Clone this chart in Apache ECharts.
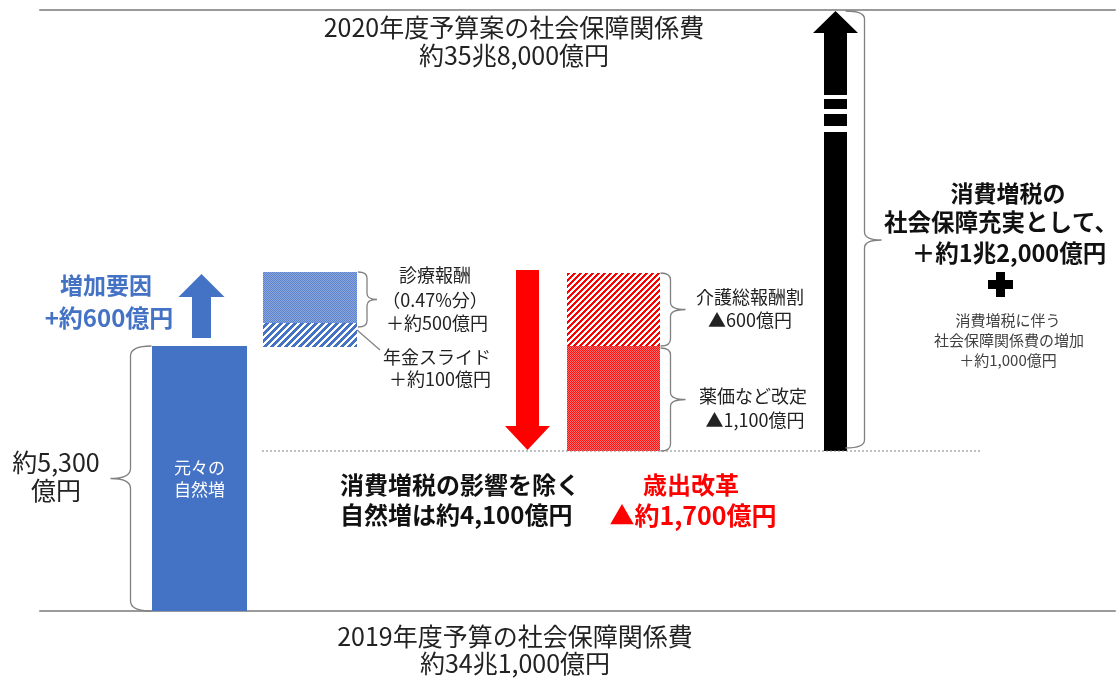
<!DOCTYPE html>
<html><head><meta charset="utf-8">
<script src="https://cdn.jsdelivr.net/npm/echarts@6/dist/echarts.min.js"></script>
<style>html,body{margin:0;padding:0;background:#fff}#c{width:1119px;height:678px}</style>
</head><body><div id="c"></div>
<script>
// ===== DATA (figure is schematic: heights in its own drawing units,
// 0 = 2019年度 baseline, 601 = 2020年度 line) =====
const columns = ['元々の自然増', '診療報酬・年金スライド', '歳出改革', '介護総報酬割・薬価など改定', '社会保障充実'];
const scaleMax = 601;
const naturalIncrease = [265];      // 元々の自然増 (約5,300億円)
const increaseOffset = [264];       // hidden base under 増加要因 bars
const pensionSlide = [24];          // 年金スライド (+約100億円)
const medicalFee = [51];            // 診療報酬 (+約500億円)
const cutOffset = [160];            // hidden base under 歳出改革 bars
const drugPrice = [105];            // 薬価など改定 (▲1,100億円)
const nursingCare = [73];           // 介護総報酬割 (▲600億円)
const blueArrow = [273, 337];       // [base, tip]
const redArrow = [341, 161];
const blackArrow = [160, 600];
const levelAfterCut = [160];        // dotted line level
const braceNatural = [0, 265];
const braceMedical = [284, 339];
const braceNursing = [265, 338];
const braceDrug = [160, 263];
const braceEnhance = [163, 600];

const titleTop = ['2020年度予算案の社会保障関係費', '約35兆8,000億円'];
const titleBottom = ['2019年度予算の社会保障関係費', '約34兆1,000億円'];
const naturalLabel = ['約5,300', '億円'];
const naturalInner = '元々の\n自然増';
const increaseLabel = ['増加要因', '+約600億円'];
const medicalLabel = ['診療報酬', '（0.47%分）', '＋約500億円'];
const pensionLabel = ['年金スライド', '＋約100億円'];
const nursingLabel = ['介護総報酬割', '▲600億円'];
const drugLabel = ['薬価など改定', '▲1,100億円'];
const netLabel = ['消費増税の影響を除く', '自然増は約4,100億円'];
const cutLabel = ['歳出改革', '▲約1,700億円'];
const enhanceLabel = ['消費増税の', '社会保障充実として、', '＋約1兆2,000億円'];
const taxLabel = ['消費増税に伴う', '社会保障関係費の増加', '＋約1,000億円'];

// ===== STYLE =====
const FONT = '"Noto Sans CJK JP", "Noto Sans", sans-serif';
const BLUE_HEX = '#4472C4';
function pattern(w, h, pick) {
  const c = document.createElement('canvas'); c.width = w; c.height = h;
  const ctx = c.getContext('2d');
  for (let y = 0; y < h; y++) for (let x = 0; x < w; x++) {
    ctx.fillStyle = pick(x, y); ctx.fillRect(x, y, 1, 1);
  }
  return { image: c, repeat: 'repeat' };
}
const blueStripe = pattern(7, 7, (x, y) => ((x + y) % 7) < 4 ? BLUE_HEX : '#ffffff');
const redStripe = pattern(6, 6, (x, y) => ((x + y) % 6) < 3 ? '#ff0000' : '#ffffff');
const blueDots = pattern(2, 2, (x, y) => ((x + y) % 2 === 0) ? '#5a82cc' : '#8ea8dc');
const redDots = pattern(2, 2, (x, y) => ((x + y) % 2 === 0) ? '#ff1010' : '#ff7070');

function arrowRender(cfg) {
  return function (params, api) {
    const base = api.coord([api.value(0), api.value(1)]);
    const tip = api.coord([api.value(0), api.value(2)]);
    const cx = base[0] + (cfg.dx || 0);
    const dir = tip[1] < base[1] ? -1 : 1;
    const hb = tip[1] - dir * cfg.head;
    const hw = cfg.headW / 2, sw = cfg.shaftW / 2;
    const pts = [[cx - sw, base[1]], [cx - sw, hb], [cx - hw, hb], [cx, tip[1]], [cx + hw, hb], [cx + sw, hb], [cx + sw, base[1]]];
    const children = [{ type: 'polygon', shape: { points: pts }, style: { fill: cfg.color } }];
    (cfg.breaks || []).forEach(b => {
      children.push({ type: 'rect', shape: { x: cx - sw - 1, y: tip[1] + b[0], width: cfg.shaftW + 2, height: b[1] - b[0] }, style: { fill: '#fff' } });
    });
    return { type: 'group', children };
  };
}
function braceRender(cfg) {
  return function (params, api) {
    const a = api.coord([api.value(0), api.value(1)]);
    const b = api.coord([api.value(0), api.value(2)]);
    const cx = a[0];
    const yTop = Math.min(a[1], b[1]), yBot = Math.max(a[1], b[1]);
    const xe = cx + cfg.end, xm = cx + cfg.mid, xt = cx + cfg.tip;
    const yt = yTop + (yBot - yTop) * (cfg.frac || 0.5);
    const r = cfg.r;
    const d = `M${xe} ${yTop} Q${xm} ${yTop} ${xm} ${yTop + r} L${xm} ${yt - r} Q${xm} ${yt} ${xt} ${yt} Q${xm} ${yt} ${xm} ${yt + r} L${xm} ${yBot - r} Q${xm} ${yBot} ${xe} ${yBot}`;
    return { type: 'path', shape: { pathData: d }, style: { fill: 'none', stroke: '#808080', lineWidth: 1.3 } };
  };
}
function T(text, x, y, size, o) {
  o = o || {};
  const al = o.align || 'center';
  return { type: 'text', x: x, y: y, z: 100, style: {
    text: text, fill: o.color || '#222', fontSize: size, fontFamily: FONT, fontWeight: o.bold ? 'bold' : 'normal',
    align: al, textAlign: al, verticalAlign: 'middle', textVerticalAlign: 'middle' } };
}

const colGrids = [
  { left: 152, width: 95 }, { left: 263, width: 94 }, { left: 505, width: 45 }, { left: 567, width: 93 }, { left: 813, width: 45 }
];
const grids = colGrids.map(g => ({ left: g.left, width: g.width, top: 10, height: 601 }));
grids.push({ left: 40, width: 1075, top: 10, height: 601 });   // frame (5)
grids.push({ left: 262, width: 718, top: 10, height: 601 });   // dotted level (6)

const xAxes = columns.map((c, i) => ({ type: 'category', gridIndex: i, data: [c], show: false }));
xAxes.push({ type: 'value', gridIndex: 5, min: 0, max: 1, position: 'bottom', axisLine: { show: true, lineStyle: { color: '#9a9a9a', width: 2 } }, axisTick: { show: false }, axisLabel: { show: false }, splitLine: { show: false } });
xAxes.push({ type: 'value', gridIndex: 5, min: 0, max: 1, position: 'top', axisLine: { show: true, onZero: false, lineStyle: { color: '#9a9a9a', width: 2 } }, axisTick: { show: false }, axisLabel: { show: false }, splitLine: { show: false } });
xAxes.push({ type: 'value', gridIndex: 6, min: 0, max: 1, show: false });
const yAxes = grids.map((g, i) => ({ type: 'value', gridIndex: i, min: 0, max: scaleMax, show: false }));

const series = [
  { type: 'bar', name: columns[0], xAxisIndex: 0, yAxisIndex: 0, data: naturalIncrease, barWidth: '100%', itemStyle: { color: BLUE_HEX },
    label: { show: true, position: 'inside', formatter: naturalInner, color: '#fff', fontSize: 17, lineHeight: 22, fontFamily: FONT } },
  { type: 'bar', xAxisIndex: 1, yAxisIndex: 1, stack: 'inc', data: increaseOffset, barWidth: '100%', itemStyle: { color: 'rgba(0,0,0,0)' } },
  { type: 'bar', name: '年金スライド', xAxisIndex: 1, yAxisIndex: 1, stack: 'inc', data: pensionSlide, barWidth: '100%', itemStyle: { color: blueStripe } },
  { type: 'bar', name: '診療報酬', xAxisIndex: 1, yAxisIndex: 1, stack: 'inc', data: medicalFee, barWidth: '100%', itemStyle: { color: blueDots } },
  { type: 'bar', xAxisIndex: 3, yAxisIndex: 3, stack: 'cut', data: cutOffset, barWidth: '100%', itemStyle: { color: 'rgba(0,0,0,0)' } },
  { type: 'bar', name: '薬価など改定', xAxisIndex: 3, yAxisIndex: 3, stack: 'cut', data: drugPrice, barWidth: '100%', itemStyle: { color: redDots } },
  { type: 'bar', name: '介護総報酬割', xAxisIndex: 3, yAxisIndex: 3, stack: 'cut', data: nursingCare, barWidth: '100%', itemStyle: { color: redStripe } },
  { type: 'custom', xAxisIndex: 0, yAxisIndex: 0, data: [[0, blueArrow[0], blueArrow[1]]], encode: { x: 0, y: [1, 2] },
    renderItem: arrowRender({ headW: 46, shaftW: 19, head: 23, color: BLUE_HEX, dx: 2 }) },
  { type: 'custom', xAxisIndex: 2, yAxisIndex: 2, data: [[0, redArrow[0], redArrow[1]]], encode: { x: 0, y: [1, 2] },
    renderItem: arrowRender({ headW: 45, shaftW: 23, head: 24, color: '#FF0000' }) },
  { type: 'custom', xAxisIndex: 4, yAxisIndex: 4, data: [[0, blackArrow[0], blackArrow[1]]], encode: { x: 0, y: [1, 2] },
    renderItem: arrowRender({ headW: 45, shaftW: 23, head: 22, color: '#000', breaks: [[84, 88], [98, 103], [115, 121]] }) },
  { type: 'custom', xAxisIndex: 0, yAxisIndex: 0, data: [[0, braceNatural[0], braceNatural[1]]], encode: { x: 0, y: [1, 2] },
    renderItem: braceRender({ end: -48, mid: -69, tip: -89, r: 10 }) },
  { type: 'custom', xAxisIndex: 1, yAxisIndex: 1, data: [[0, braceMedical[0], braceMedical[1]]], encode: { x: 0, y: [1, 2] },
    renderItem: braceRender({ end: 48, mid: 57, tip: 67, r: 6 }) },
  { type: 'custom', xAxisIndex: 3, yAxisIndex: 3, data: [[0, braceNursing[0], braceNursing[1]]], encode: { x: 0, y: [1, 2] },
    renderItem: braceRender({ end: 47, mid: 57, tip: 72, r: 7 }) },
  { type: 'custom', xAxisIndex: 3, yAxisIndex: 3, data: [[0, braceDrug[0], braceDrug[1]]], encode: { x: 0, y: [1, 2] },
    renderItem: braceRender({ end: 47, mid: 57, tip: 72, r: 7 }) },
  { type: 'custom', xAxisIndex: 4, yAxisIndex: 4, data: [[0, braceEnhance[0], braceEnhance[1]]], encode: { x: 0, y: [1, 2] },
    renderItem: braceRender({ end: 10, mid: 29, tip: 46, r: 8, frac: 0.524 }) },
  { type: 'line', xAxisIndex: 7, yAxisIndex: 6, data: [[0, levelAfterCut[0]], [1, levelAfterCut[0]]], symbol: 'none', silent: true,
    lineStyle: { color: '#808080', width: 1, type: [2, 2] } }
];

const graphic = [
  T(titleTop[0], 514, 27, 25), T(titleTop[1], 514, 55, 25),
  T(titleBottom[0], 515, 636, 25), T(titleBottom[1], 515, 663, 25),
  T(naturalLabel[0], 56, 462, 25), T(naturalLabel[1], 56, 490, 25),
  T(increaseLabel[0], 106, 285, 23, { bold: true, color: BLUE_HEX }), T(increaseLabel[1], 109, 318, 24, { bold: true, color: BLUE_HEX }),
  T(medicalLabel[0], 435, 275, 18), T(medicalLabel[1], 435, 300, 18), T(medicalLabel[2], 437, 323, 18),
  T(pensionLabel[0], 437, 357, 18), T(pensionLabel[1], 440, 379, 18),
  T(nursingLabel[0], 750, 297, 18), T(nursingLabel[1], 750, 320, 18),
  T(drugLabel[0], 753, 396, 18), T(drugLabel[1], 755, 420, 18),
  T(netLabel[0], 340, 485, 24, { bold: true, align: 'left', color: '#111' }), T(netLabel[1], 340, 515, 24, { bold: true, align: 'left', color: '#111' }),
  T(cutLabel[0], 691, 485, 24, { bold: true, color: '#FF0000' }), T(cutLabel[1], 693, 515, 25, { bold: true, color: '#FF0000' }),
  T(enhanceLabel[0], 1008, 193, 23, { bold: true, color: '#111' }), T(enhanceLabel[1], 1001, 222, 23.5, { bold: true, color: '#111' }), T(enhanceLabel[2], 1009, 253, 23.5, { bold: true, color: '#111' }),
  { type: 'rect', shape: { x: 988, y: 280, width: 25, height: 9 }, style: { fill: '#000' } },
  { type: 'rect', shape: { x: 996, y: 272, width: 9, height: 25 }, style: { fill: '#000' } },
  T(taxLabel[0], 1008, 320, 15, { color: '#404040' }), T(taxLabel[1], 1009, 340, 15, { color: '#404040' }), T(taxLabel[2], 1008, 360, 15, { color: '#404040' }),
  { type: 'line', shape: { x1: 357, y1: 330, x2: 380, y2: 350 }, style: { stroke: '#808080', lineWidth: 1.2 } }
];

const chart = echarts.init(document.getElementById('c'), null, { renderer: 'canvas' });
chart.setOption({
  animation: false,
  backgroundColor: '#fff',
  textStyle: { fontFamily: FONT },
  grid: grids, xAxis: xAxes, yAxis: yAxes, series: series, graphic: graphic
});
</script></body></html>
